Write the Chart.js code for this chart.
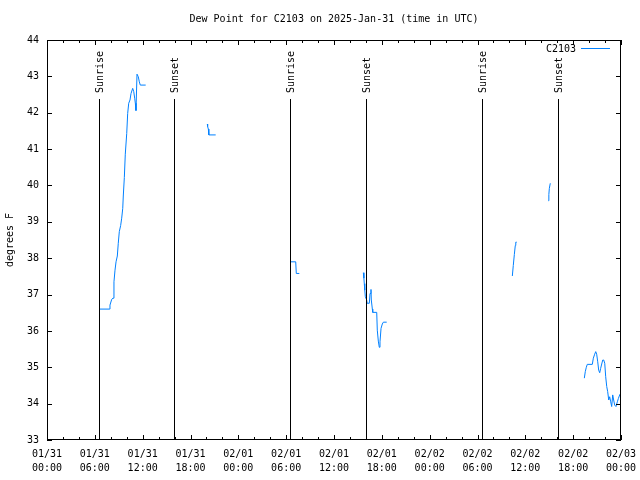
<!DOCTYPE html>
<html>
<head>
<meta charset="utf-8">
<script src="https://cdn.jsdelivr.net/npm/chart.js@4"></script>
<style>
  html, body { margin: 0; padding: 0; background: #fff; }
  canvas { display: block; }
</style>
</head>
<body>
<canvas id="c" width="640" height="480"></canvas>
<script>
// ---- data (hours after 2025-01-31 00:00 UTC; null = gap in record) ----
const hours = [
  6.56, 7.81, 7.90, 8.12, 8.28, 8.40, 8.53, 8.66, 8.82, 8.94, 9.07, 9.24, 9.37, 9.50, 9.57, 9.70,
  9.82, 10.00, 10.12, 10.25, 10.41, 10.54, 10.75, 10.88, 11.00, 11.08, 11.16, 11.29, 11.45, 11.58, 11.70, 12.38,
  13.0,
  20.11, 20.15, 20.24, 20.30, 21.16,
  25.0,
  30.55, 31.20, 31.27, 31.65,
  35.0,
  39.68, 39.75, 39.80, 39.86, 39.93, 40.10, 40.16, 40.43, 40.52, 40.64, 40.68, 40.81, 40.86, 41.36,
  41.43, 41.56, 41.68, 41.77, 41.90, 42.06, 42.19, 42.61,
  50.0,
  58.37, 58.49, 58.62, 58.74, 58.80, 58.92,
  60.0,
  62.88, 62.95, 63.01, 63.13,
  65.0,
  67.40, 67.52, 67.65, 67.77, 68.40, 68.53, 68.70, 68.83, 68.95, 69.08, 69.20, 69.33, 69.45, 69.58,
  69.71, 69.83, 69.96, 70.08, 70.21, 70.33, 70.46, 70.58, 70.71, 70.83, 70.96, 71.08, 71.21, 71.37,
  71.54, 71.67, 71.87, 72.00
];
const dewPoint = [
  36.60, 36.60, 36.71, 36.87, 36.90, 37.35, 37.67, 37.90, 38.06, 38.41, 38.73, 38.90, 39.10, 39.37, 39.71, 40.22,
  40.86, 41.43, 41.98, 42.26, 42.35, 42.53, 42.67, 42.58, 42.40, 42.26, 42.06, 43.06, 42.99, 42.85, 42.76, 42.76,
  null,
  41.69, 41.62, 41.55, 41.39, 41.39,
  null,
  37.90, 37.90, 37.58, 37.58,
  null,
  37.60, 37.45, 37.30, 37.12, 36.94, 36.85, 36.76, 36.76, 37.03, 37.14, 36.85, 36.60, 36.51, 36.51,
  36.02, 35.72, 35.55, 35.70, 36.07, 36.19, 36.24, 36.24,
  null,
  37.51, 37.80, 38.10, 38.35, 38.44, 38.44,
  null,
  39.58, 39.75, 39.92, 40.06,
  null,
  34.70, 34.88, 35.00, 35.08, 35.08, 35.25, 35.36, 35.43, 35.36, 35.15, 34.92, 34.85, 34.97, 35.09,
  35.20, 35.20, 35.11, 34.74, 34.47, 34.33, 34.10, 34.19, 34.05, 33.92, 34.24, 34.10, 33.96, 33.92,
  34.05, 34.14, 34.26, 34.26
];
const sunLabels = ["Sunrise", "Sunset", "Sunrise", "Sunset", "Sunrise", "Sunset"];
const sunHours  = [6.56, 15.94, 30.50, 40.07, 54.58, 64.08];
const tickDates = ["01/31","01/31","01/31","01/31","02/01","02/01","02/01","02/01","02/02","02/02","02/02","02/02","02/03"];
const tickTimes = ["00:00","06:00","12:00","18:00","00:00","06:00","12:00","18:00","00:00","06:00","12:00","18:00","00:00"];
const yTicks = [33, 34, 35, 36, 37, 38, 39, 40, 41, 42, 43, 44];
const titleText = "Dew Point for C2103 on 2025-Jan-31 (time in UTC)";
const yTitle = "degrees F";
const seriesName = "C2103";

const FONT = '"DejaVu Sans Mono", "Liberation Mono", monospace';
const LINE_COLOR = '#0080ff';

const points = hours.map((h, i) => ({ x: h, y: dewPoint[i] }));

const decor = {
  id: 'decor',
  afterDatasetsDraw(chart) {
    const { ctx, chartArea: a, scales: { x, y } } = chart;
    ctx.save();
    ctx.strokeStyle = '#000';
    ctx.lineWidth = 1;
    // border
    ctx.strokeRect(Math.round(a.left) + 0.5, Math.round(a.top) + 0.5,
                   Math.round(a.right - a.left) - 1, Math.round(a.bottom - a.top) - 1);
    // x ticks (inward, top and bottom)
    ctx.beginPath();
    for (let h = 0; h <= 72; h += 2) {
      const px = Math.round(x.getPixelForValue(h)) + 0.5;
      const len = (h % 6 === 0) ? 5 : 3;
      ctx.moveTo(px, a.bottom); ctx.lineTo(px, a.bottom - len);
      ctx.moveTo(px, a.top); ctx.lineTo(px, a.top + len);
    }
    // y ticks
    yTicks.forEach(v => {
      const py = Math.round(y.getPixelForValue(v)) + 0.5;
      ctx.moveTo(a.left, py); ctx.lineTo(a.left + 5, py);
      ctx.moveTo(a.right, py); ctx.lineTo(a.right - 5, py);
    });
    ctx.stroke();
    // sunrise / sunset lines
    ctx.font = '10px ' + FONT;
    ctx.fillStyle = '#000';
    sunHours.forEach((h, i) => {
      const px = Math.round(x.getPixelForValue(h)) + 0.5;
      ctx.beginPath();
      ctx.moveTo(px, a.top + 59);
      ctx.lineTo(px, a.bottom);
      ctx.stroke();
      ctx.save();
      ctx.translate(px + 0.5, a.top + 53);
      ctx.rotate(-Math.PI / 2);
      ctx.textAlign = 'left';
      ctx.textBaseline = 'middle';
      ctx.fillText(sunLabels[i], 0, 0);
      ctx.restore();
    });
    // title
    ctx.textAlign = 'center';
    ctx.textBaseline = 'middle';
    ctx.fillText(titleText, (a.left + a.right) / 2, 19);
    // y axis title
    ctx.save();
    ctx.translate(10, (a.top + a.bottom) / 2);
    ctx.rotate(-Math.PI / 2);
    ctx.fillText(yTitle, 0, 0);
    ctx.restore();
    // legend
    ctx.textAlign = 'right';
    ctx.fillText(seriesName, a.right - 45, a.top + 9);
    ctx.strokeStyle = LINE_COLOR;
    ctx.beginPath();
    ctx.moveTo(a.right - 40, a.top + 8.5);
    ctx.lineTo(a.right - 11, a.top + 8.5);
    ctx.stroke();
    ctx.restore();
  }
};

new Chart(document.getElementById('c'), {
  type: 'line',
  data: {
    datasets: [{
      label: seriesName,
      data: points,
      borderColor: LINE_COLOR,
      borderWidth: 1,
      pointRadius: 0,
      tension: 0,
      fill: false,
      spanGaps: false
    }]
  },
  options: {
    responsive: false,
    animation: false,
    devicePixelRatio: 1,
    layout: { padding: { top: 40, right: 19, left: 0, bottom: 0 } },
    plugins: {
      legend: { display: false },
      title: { display: false },
      tooltip: { enabled: false }
    },
    scales: {
      x: {
        type: 'linear',
        min: 0, max: 72,
        afterBuildTicks: s => { s.ticks = tickDates.map((d, i) => ({ value: i * 6 })); },
        ticks: {
          autoSkip: false, maxRotation: 0, minRotation: 0,
          color: '#000',
          font: { family: FONT, size: 10, lineHeight: 1.4 },
          padding: 7,
          callback: (v) => { const i = Math.round(v / 6); return [tickDates[i], tickTimes[i]]; }
        },
        grid: { display: false, drawTicks: false, tickLength: 0 },
        border: { display: false },
        afterFit: s => { s.height = 40; s.paddingLeft = 0; s.paddingRight = 0; }
      },
      y: {
        min: 33, max: 44,
        afterBuildTicks: s => { s.ticks = yTicks.map(v => ({ value: v })); },
        ticks: {
          color: '#000',
          font: { family: FONT, size: 10 },
          padding: 8,
          callback: v => String(v)
        },
        grid: { display: false, drawTicks: false, tickLength: 0 },
        border: { display: false },
        afterFit: s => { s.width = 47; s.paddingTop = 0; s.paddingBottom = 0; }
      }
    }
  },
  plugins: [decor]
});
</script>
</body>
</html>
